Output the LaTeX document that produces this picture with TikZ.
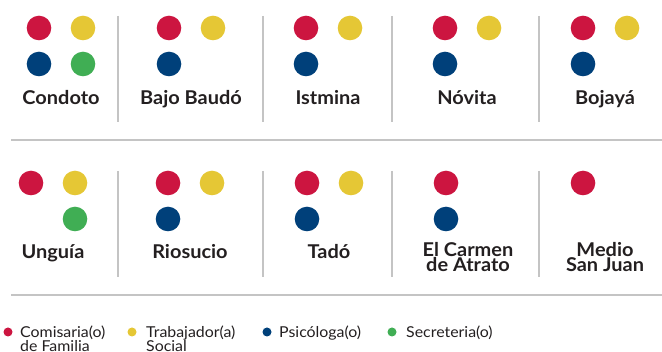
\documentclass[tikz,border=0pt]{standalone}
\usepackage{fontspec}
\setmainfont{Lato}
\newfontfamily\lblfont[FakeStretch=1.05]{Lato}
\newfontfamily\legfont[FakeStretch=1.06]{Lato}
\usepackage{xcolor}
\usetikzlibrary{positioning}
\definecolor{rojo}{HTML}{CC1540}
\definecolor{amarillo}{HTML}{E5C735}
\definecolor{azul}{HTML}{00407A}
\definecolor{verde}{HTML}{40AE54}
\definecolor{gris}{HTML}{C4C4C4}
\definecolor{tinta}{HTML}{231F20}

\begin{document}
\begin{tikzpicture}[x=1pt, y=-1pt, node distance=44pt,
    dot/.style={circle, inner sep=0pt, minimum size=24.6pt},
    sdot/.style={circle, inner sep=0pt, minimum size=9pt},
    lbl/.style={anchor=base, inner sep=0pt, text=tinta, align=center,
      font={\lblfont\fontsize{19}{13}\selectfont\bfseries}},
    leg/.style={anchor=base west, inner sep=0pt, text=tinta, align=left,
      font={\legfont\fontsize{15}{14}\selectfont}},
    sep/.style={gris, line width=1.4pt}]
      \useasboundingbox (0,0) rectangle (662,352);
      % fila 1 %
      \node[dot, fill=rojo] (cr) at (39,28) {};
      \node[dot, fill=amarillo, right of = cr] (cy) {};
      \node[dot, fill=azul, below of = cr, node distance=36pt] (cb) {};
      \node[dot, fill=verde, below of = cy, node distance=36pt] (cg) {};
      \node[lbl] (condoto) at (61,105) {Condoto};
      \node[dot, fill=rojo] (br) at (169,28) {};
      \node[dot, fill=amarillo, right of = br] (by) {};
      \node[dot, fill=azul, below of = br, node distance=36pt] (bb) {};
      \node[lbl] (bajo) at (191,105) {Bajo Baudó};
      \node[dot, fill=rojo] (ir) at (306,28) {};
      \node[dot, fill=amarillo, right of = ir] (iy) {};
      \node[dot, fill=azul, below of = ir, node distance=36pt] (ib) {};
      \node[lbl] (istmina) at (328,105) {Istmina};
      \node[dot, fill=rojo] (nr) at (445,28) {};
      \node[dot, fill=amarillo, right of = nr] (ny) {};
      \node[dot, fill=azul, below of = nr, node distance=36pt] (nb) {};
      \node[lbl] (novita) at (467,105) {Nóvita};
      \node[dot, fill=rojo] (jr) at (583,28) {};
      \node[dot, fill=amarillo, right of = jr] (jy) {};
      \node[dot, fill=azul, below of = jr, node distance=36pt] (jb) {};
      \node[lbl] (bojaya) at (605,105) {Bojayá};
      % fila 2 %
      \node[dot, fill=rojo] (ur) at (31,183) {};
      \node[dot, fill=amarillo, right of = ur] (uy) {};
      \node[dot, fill=verde, below of = uy, node distance=36pt] (ug) {};
      \node[lbl] (unguia) at (53,259) {Unguía};
      \node[dot, fill=rojo] (rr) at (168,183) {};
      \node[dot, fill=amarillo, right of = rr] (ry) {};
      \node[dot, fill=azul, below of = rr, node distance=36pt] (rb) {};
      \node[lbl] (riosucio) at (190,259) {Riosucio};
      \node[dot, fill=rojo] (tr) at (307,183) {};
      \node[dot, fill=amarillo, right of = tr] (ty) {};
      \node[dot, fill=azul, below of = tr, node distance=36pt] (tb) {};
      \node[lbl] (tado) at (329,259) {Tadó};
      \node[dot, fill=rojo] (er) at (446,183) {};
      \node[dot, fill=azul, below of = er, node distance=36pt] (eb) {};
      \node[lbl] (carmen) at (468,272) {El Carmen\\de Atrato};
      \node[dot, fill=rojo] (mr) at (583,183) {};
      \node[lbl] (medio) at (605,272) {Medio\\San Juan};
      % separadores %
      \foreach \x in {118,263,392,539} {
        \draw[sep] (\x,16) -- (\x,122);
        \draw[sep] (\x,171) -- (\x,277);
      }
      \draw[sep, line width=2pt] (11,140) -- (662,140);
      \draw[sep, line width=2pt] (11,295) -- (662,295);
      % leyenda %
      \node[sdot, fill=rojo] (lr) at (8,332) {};
      \node[leg] (lrt) at (20,351.5) {Comisaria(o)\\de Familia};
      \node[sdot, fill=amarillo] (ly) at (132,332) {};
      \node[leg] (lyt) at (146,351.5) {Trabajador(a)\\Social};
      \node[sdot, fill=azul] (lb) at (267,332) {};
      \node[leg] (lbt) at (279,337.5) {Psicóloga(o)};
      \node[sdot, fill=verde] (lg) at (392,332) {};
      \node[leg] (lgt) at (406,337.5) {Secreteria(o)};
\end{tikzpicture}
\end{document}
